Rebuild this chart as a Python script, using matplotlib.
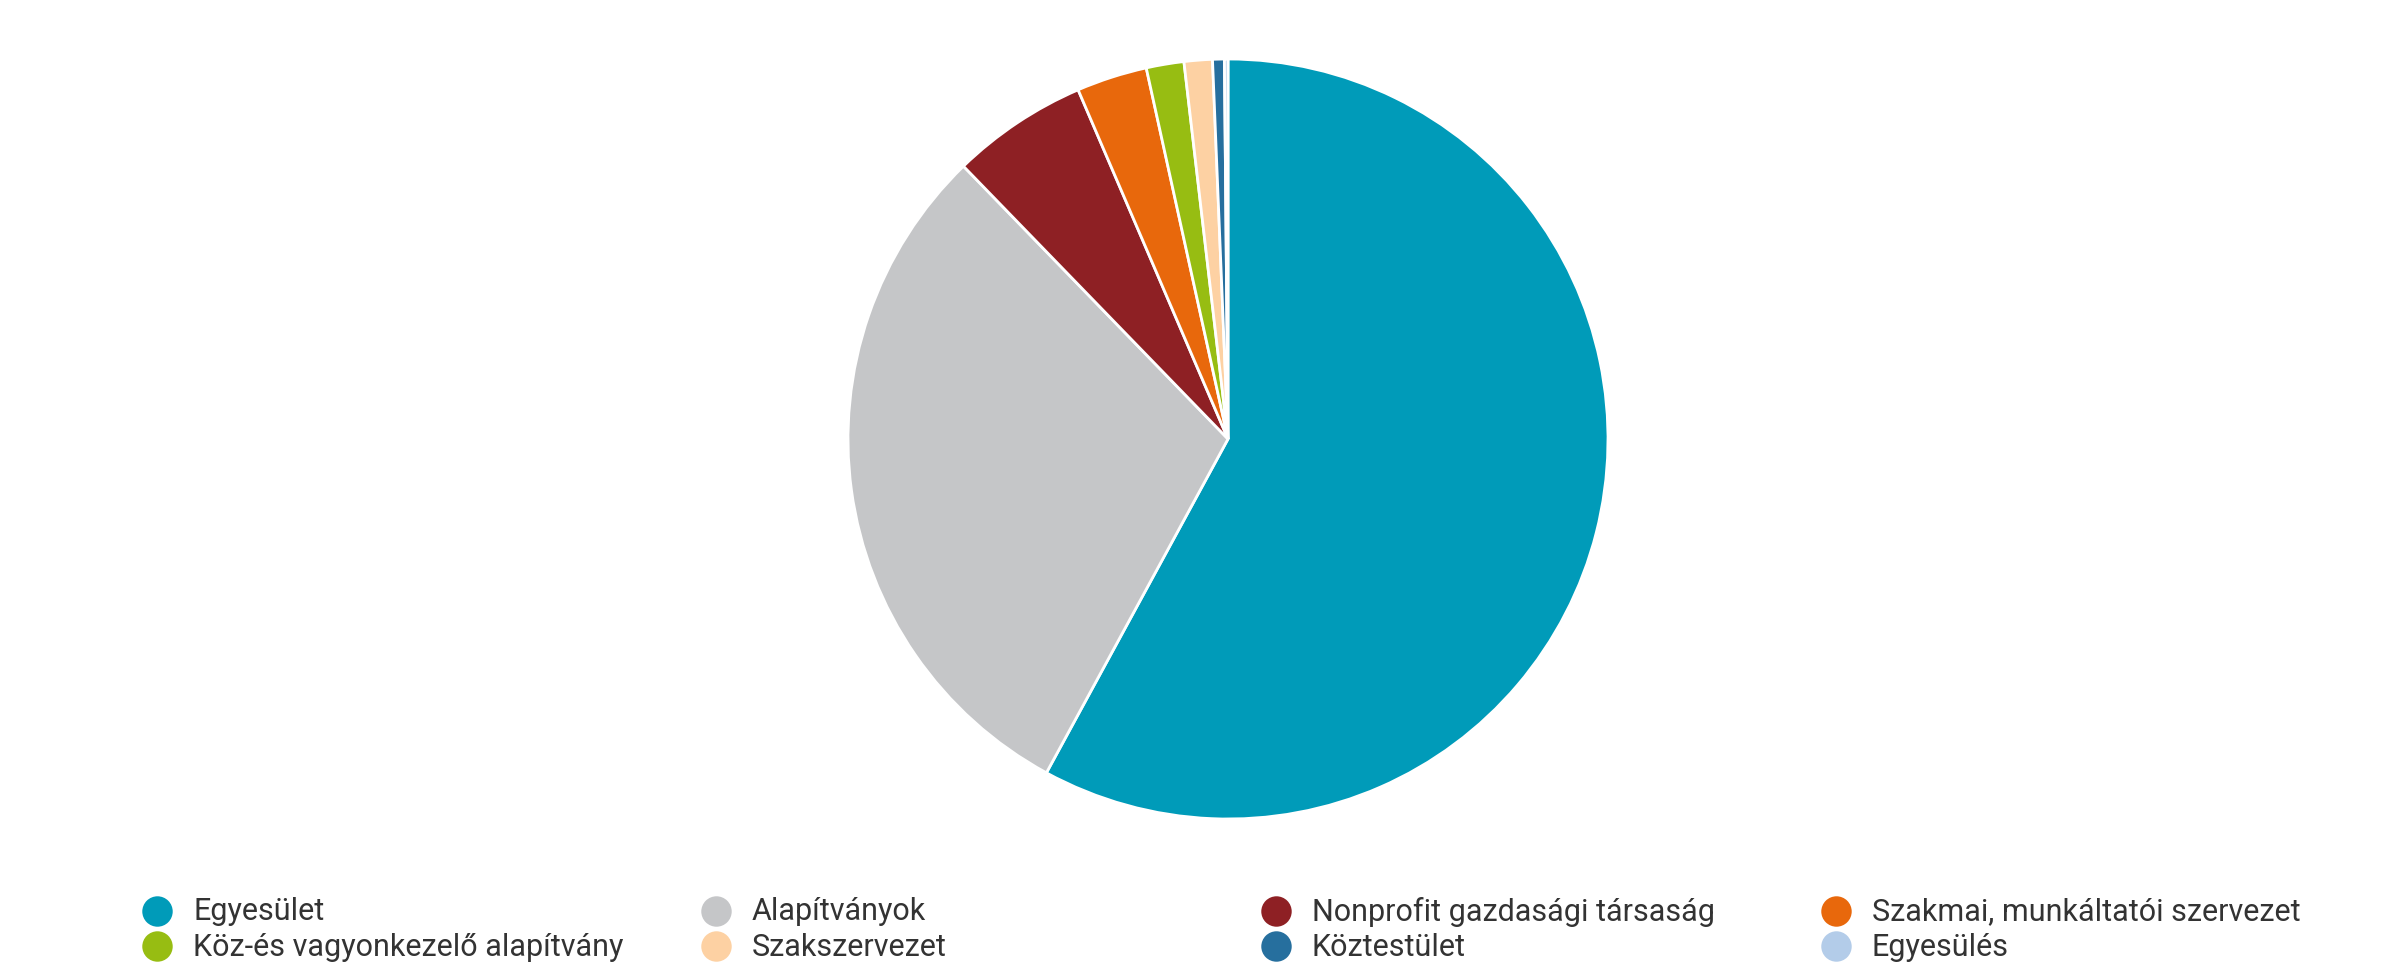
import matplotlib
matplotlib.use('Agg')
import matplotlib.pyplot as plt

plt.rcParams['font.family'] = ['Roboto', 'DejaVu Sans']

labels = ['Egyesület', 'Alapítványok', 'Nonprofit gazdasági társaság',
          'Szakmai, munkáltatói szervezet', 'Köz-és vagyonkezelő alapítvány',
          'Szakszervezet', 'Köztestület', 'Egyesülés']
values = [57.9, 29.8, 5.8, 3.0, 1.6, 1.2, 0.5, 0.15]
colors = ['#009bb9', '#c5c6c8', '#8e2024', '#e8680c', '#97bd12',
          '#fdd1a3', '#266f9e', '#b3cce9']

W, H = 2383, 973
fig = plt.figure(figsize=(W / 100, H / 100), dpi=100)

# pie centred at (1228, 439) px, radius ~380 px
cx, cy, r = 1228, 439, 380
ax = fig.add_axes([(cx - r) / W, (H - cy - r) / H, 2 * r / W, 2 * r / H])
ax.pie(values, colors=colors, startangle=90, counterclock=False,
       wedgeprops=dict(edgecolor='white', linewidth=2))
ax.set_xlim(-1, 1)
ax.set_ylim(-1, 1)
ax.set_aspect('equal')
ax.axis('off')

# legend, 4 columns x 2 rows
lax = fig.add_axes([0, 0, 1, 1], zorder=-1)
lax.set_xlim(0, W)
lax.set_ylim(H, 0)
lax.axis('off')
col_x = [157, 716, 1276, 1836]
row_y = [911, 946]
for i, (lab, c) in enumerate(zip(labels, colors)):
    x = col_x[i % 4]
    y = row_y[i // 4]
    lax.scatter([x], [y], s=480, color=c, marker='o', linewidths=0)
    lax.text(x + 36, y + 1, lab, fontsize=22, color='#333333', va='center', ha='left')

fig.savefig('out.png', dpi=100, facecolor='white')
